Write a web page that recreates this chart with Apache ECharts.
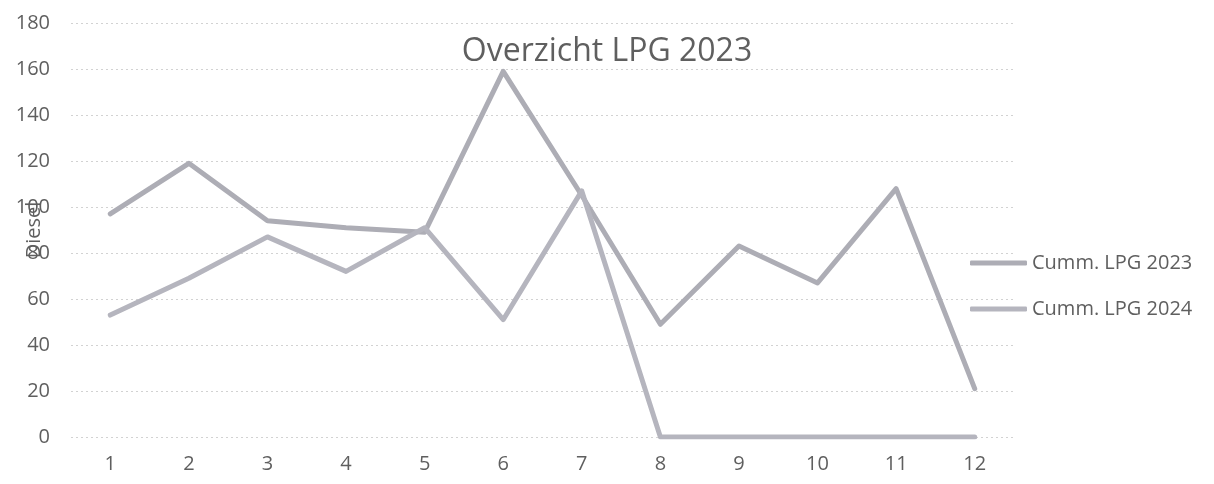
<!DOCTYPE html>
<html>
<head>
    <meta charset="utf-8">
    <title>Overzicht LPG 2023</title>
    <script src="https://cdn.jsdelivr.net/npm/echarts@6/dist/echarts.min.js"></script>
    <style>
        html, body { margin: 0; padding: 0; background: #fff; }
    </style>
</head>
<body>
<div id="main" style="width:1214px;height:484px;"></div>

<script type="text/javascript">
    // maanden en waarden
    var maanden = ['1', '2', '3', '4', '5', '6', '7', '8', '9', '10', '11', '12'];
    var lpg2023 = [97, 119, 94, 91, 89, 159, 105, 49, 83, 67, 108, 21];
    var lpg2024 = [53, 69, 87, 72, 91, 51, 107, 0, 0, 0, 0, 0];
    var yTicks = [0, 20, 40, 60, 80, 100, 120, 140, 160, 180];

    var fontNaam = '"Open Sans", "Liberation Sans", sans-serif';
    var tekstKleur = '#5f5f5f';

    var myChart = echarts.init(document.getElementById('main'));

    myChart.setOption({
        backgroundColor: '#ffffff',
        animation: false,
        title: {
            text: 'Overzicht LPG 2023',
            left: 'center',
            top: 31,
            textStyle: {
                fontFamily: fontNaam,
                fontSize: 32,
                fontWeight: 'normal',
                color: tekstKleur
            }
        },
        grid: {
            left: 71,
            right: 200,
            top: 23,
            bottom: 47,
            outerBoundsMode: 'none'
        },
        legend: {
            orient: 'vertical',
            left: 965,
            top: 246,
            itemWidth: 57,
            itemHeight: 5,
            itemGap: 22,
            icon: 'roundRect',
            textStyle: {
                fontFamily: fontNaam,
                fontSize: 20,
                color: tekstKleur,
                lineHeight: 24
            },
            data: ['Cumm. LPG 2023', 'Cumm. LPG 2024']
        },
        xAxis: {
            type: 'category',
            data: maanden,
            boundaryGap: true,
            axisLine: { show: false },
            axisTick: { show: false },
            axisLabel: {
                fontFamily: fontNaam,
                fontSize: 20,
                color: tekstKleur,
                margin: 17
            }
        },
        yAxis: {
            type: 'value',
            min: yTicks[0],
            max: yTicks[yTicks.length - 1],
            interval: 20,
            name: 'Diesel',
            nameLocation: 'middle',
            nameRotate: 90,
            nameGap: 27,
            nameMoveOverlap: false,
            nameTextStyle: {
                fontFamily: fontNaam,
                fontSize: 20,
                color: tekstKleur
            },
            axisLine: { show: false },
            axisTick: { show: false },
            axisLabel: {
                fontFamily: fontNaam,
                fontSize: 20,
                color: tekstKleur,
                margin: 21
            },
            splitLine: {
                lineStyle: {
                    color: '#d2d2d2',
                    type: [2, 3],
                    width: 1
                }
            }
        },
        series: [{
            name: 'Cumm. LPG 2023',
            type: 'line',
            data: lpg2023,
            symbol: 'none',
            color: '#adadb5',
            lineStyle: { width: 5, cap: 'round', join: 'round', color: '#adadb5' }
        }, {
            name: 'Cumm. LPG 2024',
            type: 'line',
            data: lpg2024,
            symbol: 'none',
            color: '#b5b5be',
            lineStyle: { width: 5, cap: 'round', join: 'round', color: '#b5b5be' }
        }]
    });
</script>
</body>
</html>
